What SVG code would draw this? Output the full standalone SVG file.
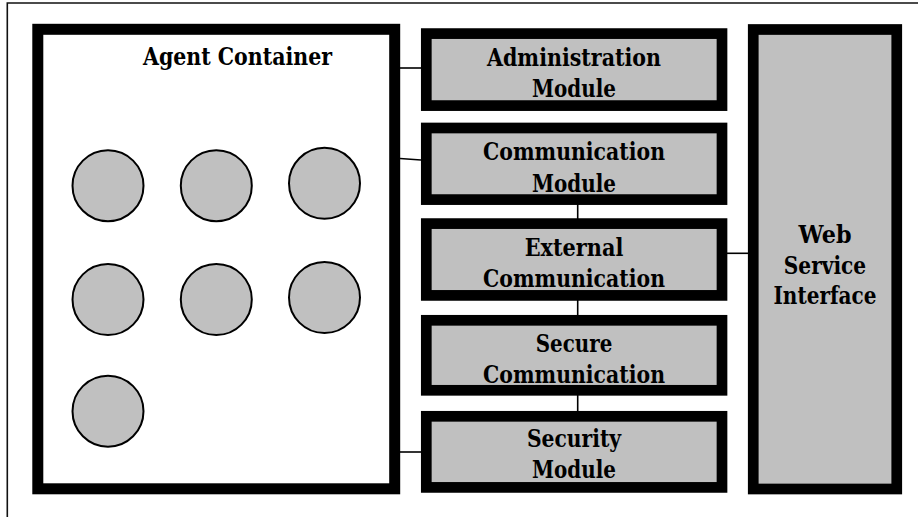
<svg xmlns="http://www.w3.org/2000/svg" width="918" height="517" viewBox="0 0 918 517">
  <style>
    .frame { fill: none; stroke: #111; stroke-width: 1.6; }
    .module { fill: #c0c0c0; stroke: #000; stroke-width: 10.7; }
    .container { fill: #fff; stroke: #000; stroke-width: 11; }
    .agent { fill: #c0c0c0; stroke: #000; stroke-width: 2; }
    .link { fill: none; stroke: #000; stroke-width: 1.6; }
    text { font-family: 'DejaVu Serif', 'Liberation Serif', serif; font-weight: 700; font-size: 24.5px; fill: #000; text-anchor: middle; }
  </style>

  <!-- page frame (continues past the right and bottom edges) -->
  <path class="frame" d="M7.3,517 V3 H918"/>

  <!-- connectors -->
  <g id="connectors">
    <line class="link" x1="400" y1="68" x2="421" y2="68"/>
    <line class="link" x1="400" y1="158.5" x2="421" y2="160"/>
    <line class="link" x1="400" y1="452" x2="421" y2="452"/>
    <line class="link" x1="577.7" y1="193" x2="577.7" y2="219"/>
    <line class="link" x1="577.7" y1="290" x2="577.7" y2="315"/>
    <line class="link" x1="577.7" y1="384" x2="577.7" y2="411"/>
    <line class="link" x1="727" y1="253.3" x2="748" y2="253.3"/>
  </g>

  <!-- agent container with its agents -->
  <g id="agent-container">
    <rect class="container" x="37.8" y="29.3" width="356.9" height="459.5"/>
    <text x="237.5" y="65" textLength="189" lengthAdjust="spacingAndGlyphs">Agent Container</text>
    <circle class="agent" cx="108" cy="185.7" r="35.5"/>
    <circle class="agent" cx="216.3" cy="185.7" r="35.5"/>
    <circle class="agent" cx="324.5" cy="183.3" r="35.5"/>
    <circle class="agent" cx="108" cy="299.5" r="35.5"/>
    <circle class="agent" cx="216.3" cy="299.5" r="35.5"/>
    <circle class="agent" cx="324.5" cy="297.5" r="35.5"/>
    <circle class="agent" cx="108" cy="411.2" r="35.5"/>
  </g>

  <!-- modules -->
  <g id="administration-module">
    <rect class="module" x="426.3" y="33.6" width="295.7" height="72"/>
    <text x="574" y="65.7" textLength="174" lengthAdjust="spacingAndGlyphs">Administration</text>
    <text x="574" y="97.3" textLength="84" lengthAdjust="spacingAndGlyphs">Module</text>
  </g>
  <g id="communication-module">
    <rect class="module" x="426.3" y="128" width="295.7" height="71.6"/>
    <text x="574" y="160" textLength="182" lengthAdjust="spacingAndGlyphs">Communication</text>
    <text x="574" y="191.7" textLength="84" lengthAdjust="spacingAndGlyphs">Module</text>
  </g>
  <g id="external-communication">
    <rect class="module" x="426.3" y="223.6" width="295.7" height="71.8"/>
    <text x="574" y="255.7" textLength="98.6" lengthAdjust="spacingAndGlyphs">External</text>
    <text x="574" y="287.3" textLength="182" lengthAdjust="spacingAndGlyphs">Communication</text>
  </g>
  <g id="secure-communication">
    <rect class="module" x="426.3" y="320.3" width="295.7" height="70"/>
    <text x="574" y="351.7" textLength="76.5" lengthAdjust="spacingAndGlyphs">Secure</text>
    <text x="574" y="382.7" textLength="182" lengthAdjust="spacingAndGlyphs">Communication</text>
  </g>
  <g id="security-module">
    <rect class="module" x="426.3" y="416.3" width="295.7" height="71.1"/>
    <text x="574" y="446.7" textLength="94.2" lengthAdjust="spacingAndGlyphs">Security</text>
    <text x="574" y="478.3" textLength="84" lengthAdjust="spacingAndGlyphs">Module</text>
  </g>

  <!-- web service interface -->
  <g id="web-service-interface">
    <rect class="module" x="753.25" y="29.5" width="143.5" height="459.5"/>
    <text x="825" y="242.7" textLength="53" lengthAdjust="spacingAndGlyphs">Web</text>
    <text x="825" y="274" textLength="82.4" lengthAdjust="spacingAndGlyphs">Service</text>
    <text x="825" y="303.6" textLength="103" lengthAdjust="spacingAndGlyphs">Interface</text>
  </g>
</svg>
